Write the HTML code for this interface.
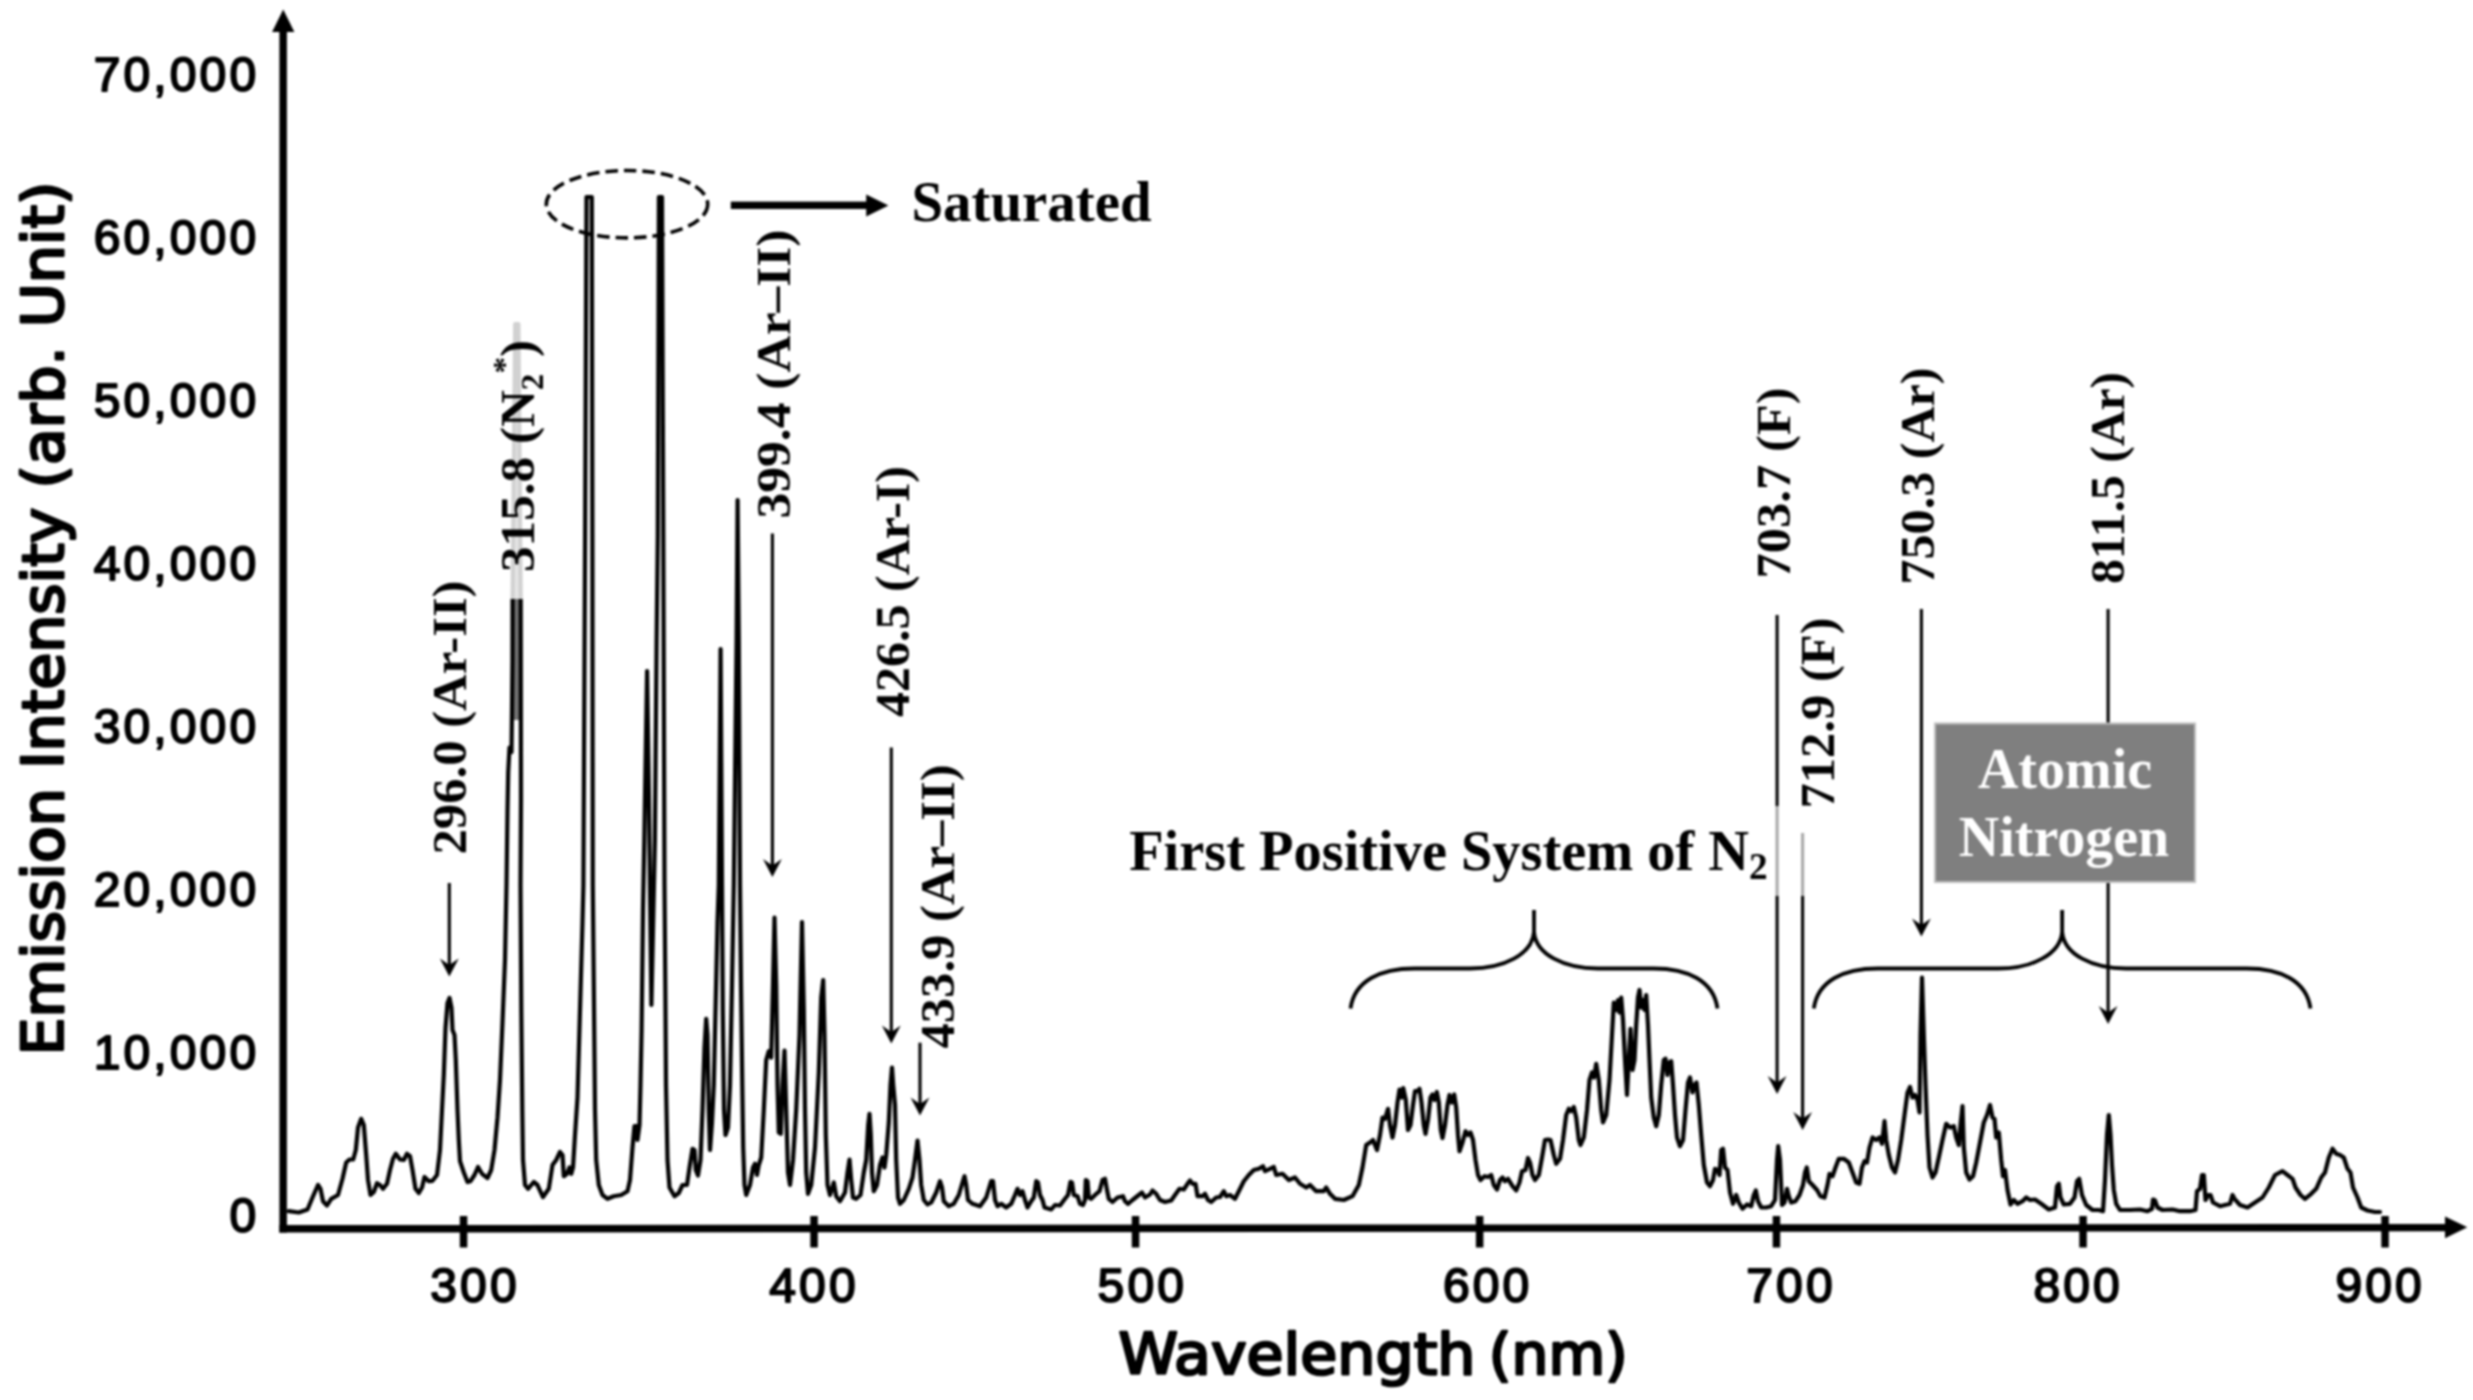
<!DOCTYPE html>
<html lang="en"><head><meta charset="utf-8"><title>Emission spectrum</title>
<style>
html,body{margin:0;padding:0;background:#fff;}
body{width:2473px;height:1400px;overflow:hidden;}
svg{display:block;filter:blur(0.8px);}
.num{font-family:"Liberation Sans",sans-serif;font-size:48px;letter-spacing:3.1px;fill:#000;stroke:#000;stroke-width:1.9px;stroke-linejoin:round;}
.ttl{font-family:"DejaVu Sans","Liberation Sans",sans-serif;font-size:57px;fill:#000;stroke:#000;stroke-width:2.7px;stroke-linejoin:round;}
.lab{font-family:"Liberation Serif",serif;font-weight:bold;font-size:49.5px;fill:#000;}
.big{font-family:"Liberation Serif",serif;font-weight:bold;font-size:56px;fill:#000;}
.arr{stroke:#000;stroke-width:3.1px;fill:none;}
.brace{stroke:#000;stroke-width:3.8px;fill:none;stroke-linecap:butt;}
</style></head><body>
<svg width="2473" height="1400" viewBox="0 0 2473 1400">
<rect width="2473" height="1400" fill="#fff"/>
<polyline points="288.8,1211.2 298.8,1212.5 307.5,1209.5 312.5,1197.5 318.0,1185.0 320.5,1188.8 323.0,1201.2 327.0,1205.5 331.2,1198.8 338.0,1195.0 342.5,1178.8 346.2,1162.5 349.5,1159.5 353.2,1159.5 355.8,1150.0 358.0,1127.5 361.2,1118.8 363.8,1125.0 366.2,1155.0 368.0,1180.0 370.5,1195.0 373.8,1192.0 377.0,1183.2 380.0,1185.0 383.0,1188.8 387.0,1183.8 390.0,1170.0 393.0,1158.8 395.8,1153.8 400.0,1159.5 403.8,1160.0 407.0,1153.8 410.0,1156.2 412.5,1170.0 415.5,1188.8 418.8,1193.0 422.0,1187.5 424.5,1177.0 428.8,1181.2 432.5,1180.8 437.0,1175.0 440.0,1150.0 442.0,1110.0 443.8,1075.0 445.5,1028.0 447.5,1003.0 449.5,998.0 451.5,1008.0 452.5,1030.0 454.5,1035.0 455.8,1060.0 457.5,1110.0 458.8,1140.0 460.0,1161.2 463.8,1172.5 467.5,1182.0 470.5,1181.2 474.5,1175.0 478.0,1167.0 482.0,1173.8 487.5,1178.0 491.2,1170.0 494.5,1150.0 497.5,1117.5 500.0,1080.0 502.5,1022.5 505.0,960.0 506.5,885.0 507.5,810.0 508.2,772.5 509.5,747.5 511.5,752.0 512.0,710.0 512.5,660.0 512.6,600.0 515.2,324.0 518.4,324.0 520.7,600.0 521.0,800.0 520.5,885.0 521.3,1010.0 522.3,1110.0 523.0,1160.0 525.0,1185.0 528.0,1188.8 533.8,1182.0 537.5,1185.0 543.0,1197.0 548.8,1188.8 552.5,1165.0 556.2,1160.0 560.0,1152.0 562.5,1155.0 563.8,1176.2 567.0,1173.8 569.5,1167.5 571.2,1173.8 573.0,1167.5 575.0,1135.0 577.5,1097.5 580.0,1010.0 582.5,922.5 583.4,885.0 585.1,535.0 586.5,197.0 591.8,197.0 592.4,535.0 592.8,885.0 593.8,985.0 595.0,1110.0 596.2,1160.0 598.8,1185.0 602.5,1195.0 607.5,1198.8 613.8,1196.2 621.2,1195.0 627.5,1191.2 630.0,1180.0 632.5,1147.5 634.5,1126.0 637.0,1126.0 637.5,1140.0 639.5,1125.0 640.5,1085.0 641.6,1030.0 643.0,910.0 644.3,840.0 647.1,671.0 649.0,800.0 650.5,930.0 651.4,1005.0 653.0,930.0 654.9,840.0 656.6,640.0 657.8,535.0 658.9,197.0 662.0,197.0 663.3,535.0 664.5,885.0 665.3,985.0 666.0,1085.0 667.5,1160.0 669.5,1187.5 674.5,1196.2 678.8,1193.0 682.5,1185.0 687.0,1185.0 689.5,1167.5 692.5,1148.8 694.5,1150.0 695.8,1170.0 698.0,1175.5 700.5,1160.0 702.5,1110.0 704.5,1047.5 706.2,1018.8 707.5,1035.0 708.8,1110.0 710.0,1150.0 712.0,1122.5 713.8,1085.0 715.5,1010.0 717.5,922.5 718.8,885.0 720.6,649.0 722.0,885.0 722.8,1010.0 724.0,1110.0 725.5,1135.0 728.0,1127.5 730.0,1085.0 732.0,985.0 733.8,885.0 736.6,640.0 737.6,500.0 738.8,640.0 740.0,885.0 741.0,985.0 742.3,1085.0 743.2,1147.5 744.5,1185.0 746.2,1195.0 750.0,1185.0 753.0,1167.5 755.0,1163.8 757.0,1175.0 758.8,1165.0 761.2,1157.5 763.8,1110.0 766.2,1060.0 768.8,1051.2 771.2,1057.5 773.0,985.0 774.5,917.5 776.2,985.0 777.5,1085.0 778.8,1132.5 780.8,1133.8 782.5,1085.0 784.5,1050.5 786.2,1110.0 788.0,1172.5 790.0,1185.0 793.0,1160.0 796.2,1110.0 799.5,1035.0 802.0,922.0 803.8,1010.0 805.0,1110.0 806.2,1172.5 808.0,1193.8 811.2,1185.0 815.0,1147.5 818.8,1072.5 821.2,997.5 823.2,980.0 824.5,1035.0 825.8,1135.0 827.5,1185.0 830.0,1195.0 833.8,1182.5 836.2,1196.2 840.0,1201.2 845.0,1192.5 847.5,1172.5 849.5,1159.5 851.2,1180.0 853.0,1197.5 856.2,1198.8 860.5,1195.0 863.8,1172.5 866.2,1160.0 868.2,1125.0 869.5,1113.8 870.8,1135.0 872.0,1172.5 873.8,1191.2 877.0,1185.0 880.0,1165.0 882.5,1157.5 884.5,1167.5 886.2,1155.0 888.8,1122.5 890.5,1085.0 892.0,1067.5 893.2,1085.0 895.0,1105.0 896.2,1160.0 898.0,1197.5 900.0,1203.8 903.8,1200.0 908.8,1188.8 912.5,1177.5 915.0,1160.0 917.5,1140.5 919.5,1160.0 921.2,1185.0 923.8,1200.0 927.5,1204.5 931.2,1202.5 936.2,1192.5 940.0,1181.2 942.0,1187.5 943.8,1201.2 948.8,1206.2 953.8,1203.8 958.8,1195.0 962.5,1182.5 964.5,1176.2 966.2,1185.0 968.0,1200.0 972.5,1203.8 980.0,1206.2 986.2,1197.5 991.2,1181.2 993.0,1181.2 995.0,1200.0 997.5,1206.2 1001.2,1203.8 1006.2,1207.5 1011.2,1203.8 1015.0,1195.0 1017.5,1188.8 1020.0,1195.0 1022.5,1191.2 1025.0,1200.0 1027.5,1207.5 1031.2,1201.2 1033.8,1197.5 1036.2,1181.2 1038.0,1182.5 1040.0,1195.0 1042.5,1200.0 1044.5,1207.5 1051.2,1209.5 1055.0,1205.0 1060.0,1205.5 1065.0,1198.8 1068.0,1195.0 1070.5,1182.0 1072.0,1182.5 1073.8,1195.0 1077.5,1196.2 1080.0,1203.8 1083.0,1205.0 1085.0,1200.0 1085.8,1180.0 1087.5,1181.2 1088.8,1197.5 1091.2,1198.8 1095.0,1195.0 1099.5,1191.2 1102.5,1180.0 1105.0,1178.8 1107.0,1190.0 1108.8,1198.8 1112.5,1202.0 1117.5,1197.5 1123.0,1196.2 1125.0,1201.2 1128.0,1203.8 1132.5,1200.0 1138.8,1195.0 1142.0,1192.5 1145.0,1197.5 1150.0,1194.5 1152.5,1190.5 1156.2,1193.8 1160.0,1200.0 1165.0,1202.0 1171.2,1200.5 1175.0,1195.0 1179.5,1188.8 1183.8,1189.5 1187.5,1183.8 1190.0,1180.5 1192.5,1183.8 1195.5,1183.8 1197.5,1196.2 1202.5,1196.2 1205.0,1193.8 1208.0,1200.0 1211.2,1202.0 1216.2,1197.5 1220.0,1197.0 1223.8,1191.2 1226.2,1196.2 1230.0,1195.0 1235.0,1198.8 1238.8,1191.2 1243.8,1181.2 1248.8,1175.0 1253.8,1170.0 1258.8,1168.8 1263.0,1166.2 1265.0,1171.2 1270.0,1168.8 1273.8,1167.0 1276.2,1175.0 1282.5,1173.8 1288.8,1180.0 1295.0,1177.5 1300.0,1183.8 1306.2,1187.5 1310.0,1185.0 1316.2,1191.2 1323.8,1191.2 1326.2,1187.5 1330.0,1193.8 1335.0,1198.8 1343.8,1200.0 1352.5,1196.2 1358.8,1185.0 1362.5,1167.5 1366.2,1145.0 1370.0,1142.5 1373.0,1140.0 1377.0,1150.0 1380.0,1135.0 1382.5,1117.5 1385.0,1118.8 1388.0,1108.8 1390.0,1125.0 1392.5,1137.5 1395.0,1125.0 1397.5,1102.5 1399.5,1089.5 1401.8,1097.5 1403.2,1088.0 1405.8,1100.0 1408.0,1130.0 1410.5,1125.0 1413.0,1105.0 1415.0,1091.2 1417.5,1091.2 1419.5,1088.8 1421.5,1102.5 1423.8,1125.0 1425.5,1133.8 1428.0,1120.0 1430.5,1097.5 1432.5,1094.5 1434.5,1100.0 1436.8,1092.0 1438.8,1102.5 1440.8,1130.0 1442.5,1138.0 1445.0,1125.0 1447.5,1105.0 1449.5,1095.0 1451.8,1102.5 1454.2,1094.5 1456.2,1107.5 1458.0,1135.0 1459.5,1151.2 1462.5,1142.5 1465.5,1131.2 1468.0,1135.0 1470.5,1132.5 1473.0,1140.0 1475.5,1160.0 1478.0,1175.0 1480.5,1180.0 1484.5,1176.2 1488.0,1177.0 1491.2,1175.0 1493.8,1185.0 1497.0,1189.5 1500.0,1180.0 1502.5,1177.5 1505.0,1181.2 1508.0,1178.8 1512.5,1186.2 1516.2,1190.5 1519.5,1182.5 1522.0,1171.2 1525.5,1170.0 1528.0,1158.0 1530.0,1162.5 1532.5,1175.0 1535.0,1180.0 1538.8,1175.0 1542.0,1157.5 1545.0,1140.0 1548.0,1139.5 1550.5,1140.0 1553.8,1155.0 1556.2,1163.8 1560.0,1158.8 1563.0,1140.0 1566.2,1115.0 1568.8,1108.8 1571.2,1111.2 1573.8,1107.0 1576.2,1117.5 1578.8,1140.0 1580.5,1145.0 1583.8,1137.5 1587.0,1110.0 1589.5,1080.0 1592.0,1072.5 1594.0,1077.5 1596.2,1063.8 1598.8,1080.0 1601.2,1110.0 1603.0,1122.5 1606.2,1115.0 1609.5,1080.0 1612.0,1035.0 1613.8,1002.5 1616.2,1010.0 1618.0,1000.0 1619.5,1012.5 1621.2,997.5 1623.0,1020.0 1625.0,1060.0 1627.0,1095.0 1628.8,1060.0 1630.5,1028.8 1632.5,1070.0 1634.5,1060.0 1636.2,1025.0 1638.0,997.5 1639.5,990.0 1641.2,1007.5 1643.0,1000.0 1644.5,1010.0 1646.2,995.0 1648.0,1025.0 1649.5,1060.0 1651.2,1097.5 1653.8,1117.5 1656.2,1126.2 1658.8,1115.0 1661.2,1085.0 1663.8,1060.0 1665.5,1058.8 1667.5,1075.0 1669.5,1062.5 1671.2,1061.2 1673.0,1085.0 1675.0,1115.0 1677.0,1137.5 1680.0,1146.2 1683.0,1140.0 1685.5,1110.0 1688.0,1082.5 1690.0,1077.5 1692.5,1092.5 1694.5,1085.0 1696.5,1082.5 1698.8,1105.0 1701.2,1135.0 1703.8,1165.0 1707.0,1182.5 1710.0,1186.2 1713.0,1180.0 1715.0,1168.8 1717.5,1170.0 1719.5,1175.0 1721.2,1150.0 1723.0,1148.8 1725.0,1167.5 1727.5,1170.0 1730.0,1192.5 1733.0,1203.8 1736.2,1195.0 1738.8,1202.5 1742.5,1208.8 1747.0,1204.5 1751.2,1206.2 1753.8,1195.0 1755.8,1190.5 1758.0,1201.2 1761.2,1207.5 1766.2,1207.5 1771.2,1206.2 1775.0,1200.0 1777.0,1160.0 1778.2,1146.2 1780.0,1160.0 1782.0,1205.0 1784.5,1202.5 1787.0,1188.8 1788.8,1196.2 1791.2,1202.5 1795.5,1201.2 1799.5,1195.0 1803.0,1185.0 1805.0,1172.5 1806.8,1167.5 1808.8,1181.2 1812.5,1185.0 1817.0,1190.0 1820.5,1196.2 1824.5,1197.5 1827.5,1185.0 1829.5,1173.8 1832.5,1176.2 1835.5,1167.5 1838.8,1158.8 1843.8,1158.8 1848.8,1162.5 1852.5,1172.5 1856.2,1182.5 1859.5,1183.8 1862.0,1167.5 1864.5,1161.2 1867.0,1162.5 1869.5,1147.5 1872.5,1137.5 1876.2,1140.0 1879.5,1137.5 1882.0,1143.8 1884.5,1121.2 1886.2,1140.0 1888.8,1155.0 1892.0,1167.5 1895.0,1172.5 1898.0,1160.0 1901.2,1140.0 1904.5,1115.0 1907.5,1092.5 1910.0,1087.0 1912.5,1097.5 1915.0,1095.0 1917.5,1100.0 1919.5,1112.5 1920.5,1035.0 1922.0,977.5 1923.8,1035.0 1925.5,1085.0 1927.5,1135.0 1929.5,1167.5 1932.5,1177.5 1935.5,1172.5 1938.8,1157.5 1942.5,1140.0 1946.2,1123.8 1950.0,1127.5 1953.8,1126.2 1956.2,1137.5 1958.8,1145.0 1960.5,1125.0 1962.5,1106.2 1963.8,1147.5 1966.2,1172.5 1969.5,1179.5 1973.0,1176.2 1976.2,1162.5 1980.0,1142.5 1983.8,1122.5 1987.0,1115.0 1990.0,1105.0 1992.5,1117.5 1994.5,1118.8 1996.2,1137.5 1998.8,1132.5 2001.2,1160.0 2003.0,1176.2 2005.0,1170.0 2007.5,1190.0 2010.5,1204.5 2013.8,1200.0 2017.5,1203.8 2022.5,1201.2 2026.2,1197.5 2030.0,1200.0 2035.0,1199.5 2041.2,1203.8 2048.8,1209.5 2055.0,1207.5 2057.0,1186.2 2058.8,1183.8 2060.5,1197.5 2063.8,1204.5 2070.0,1203.8 2074.5,1197.5 2077.0,1181.2 2079.2,1178.8 2082.0,1195.0 2086.2,1205.0 2092.5,1210.0 2098.8,1210.0 2103.0,1211.2 2105.0,1180.0 2107.0,1135.0 2108.8,1115.0 2110.5,1135.0 2112.0,1165.0 2113.8,1190.0 2116.2,1203.8 2120.0,1210.0 2130.0,1210.0 2140.0,1209.5 2147.5,1211.2 2152.0,1208.8 2153.0,1199.5 2155.0,1200.5 2157.5,1207.5 2162.5,1210.0 2172.5,1209.5 2180.0,1211.2 2190.0,1211.2 2195.5,1210.0 2197.0,1191.2 2200.0,1188.8 2202.0,1175.0 2203.8,1175.0 2205.5,1200.0 2208.0,1195.0 2210.5,1195.0 2213.0,1202.5 2220.0,1206.2 2230.0,1203.8 2232.5,1195.0 2234.5,1198.8 2240.0,1205.0 2247.5,1207.5 2255.0,1202.5 2262.5,1197.5 2268.8,1187.5 2275.0,1175.0 2282.5,1171.2 2287.5,1175.0 2292.5,1178.8 2295.5,1187.5 2300.5,1195.0 2305.0,1198.8 2311.2,1193.8 2316.2,1188.8 2321.2,1177.5 2325.0,1172.5 2328.8,1157.5 2332.5,1148.8 2336.2,1153.8 2340.0,1155.0 2343.8,1157.5 2347.5,1168.8 2350.5,1172.5 2353.0,1187.5 2357.5,1197.5 2361.2,1207.5 2367.5,1210.5 2375.0,1212.0 2380.0,1212.0" fill="none" stroke="#000" stroke-width="4.2" stroke-linejoin="round" stroke-linecap="round"/>
<polygon points="512.6,720 512.6,600 515.2,324 518.4,324 520.5,600 520.5,720" fill="#000" fill-opacity="0.55"/>
<g id="axes" fill="#000" stroke="none">
<rect x="279.4" y="30" width="7.5" height="1202.6"/>
<polygon points="283.2,9.6 272.1,31.9 294.4,31.9"/>
<polygon points="279.4,1225.1 2446,1223.9 2446,1231.3 279.4,1232.6"/>
<polygon points="2467.3,1227.3 2445,1216.4 2445,1238.2"/>
<rect x="459.8" y="1216" width="7.5" height="31.5"/>
<rect x="810.3" y="1216" width="7.5" height="31.5"/>
<rect x="1131.8" y="1216" width="7.5" height="31.5"/>
<rect x="1475.9" y="1216" width="7.5" height="31.5"/>
<rect x="1772.7" y="1216" width="7.5" height="31.5"/>
<rect x="2079.3" y="1216" width="7.5" height="31.5"/>
<rect x="2381.3" y="1216" width="7.5" height="31.5"/>
</g>
<line class="arr" x1="1777.1" y1="615" x2="1777.1" y2="1086"/>
<path d="M1777.1,1094 L1767.6999999999998,1076 L1777.1,1082.5 L1786.5,1076 Z" fill="#000" stroke="none"/>
<line class="arr" x1="1802.6" y1="833" x2="1802.6" y2="1122"/>
<path d="M1802.6,1130 L1793.1999999999998,1112 L1802.6,1118.5 L1812.0,1112 Z" fill="#000" stroke="none"/>
<line class="arr" x1="2108.1" y1="609" x2="2108.1" y2="1015.9"/>
<path d="M2108.1,1023.9 L2098.7,1005.9 L2108.1,1012.4 L2117.5,1005.9 Z" fill="#000" stroke="none"/>
<rect x="1106" y="806" width="722" height="90" fill="#fff" fill-opacity="0.66"/>
<rect x="492" y="318" width="56" height="281" fill="#fff" fill-opacity="0.82"/>
<line class="arr" x1="449.3" y1="883" x2="449.3" y2="968.5"/>
<path d="M449.3,976.5 L439.90000000000003,958.5 L449.3,965.0 L458.7,958.5 Z" fill="#000" stroke="none"/>
<line class="arr" x1="772.4" y1="533.5" x2="772.4" y2="869"/>
<path d="M772.4,877 L763.0,859 L772.4,865.5 L781.8,859 Z" fill="#000" stroke="none"/>
<line class="arr" x1="891.3" y1="747.5" x2="891.3" y2="1035.4"/>
<path d="M891.3,1043.4 L881.9,1025.4 L891.3,1031.9 L900.6999999999999,1025.4 Z" fill="#000" stroke="none"/>
<line class="arr" x1="920" y1="1042.7" x2="920" y2="1107.4"/>
<path d="M920,1115.4 L910.6,1097.4 L920,1103.9 L929.4,1097.4 Z" fill="#000" stroke="none"/>
<line class="arr" x1="1921.4" y1="609" x2="1921.4" y2="928.6"/>
<path d="M1921.4,936.6 L1912.0,918.6 L1921.4,925.1 L1930.8000000000002,918.6 Z" fill="#000" stroke="none"/>
<rect x="730.8" y="201.6" width="137" height="7.4" fill="#000"/>
<polygon points="888.4,205.4 866.2,194.4 866.2,216.4" fill="#000"/>
<ellipse cx="627" cy="204.2" rx="80.7" ry="33.7" fill="none" stroke="#000" stroke-width="3.6" stroke-dasharray="12.5 6"/>
<path class="brace" d="M1350.5,1008.5 C1354.5,980.5 1380.5,968.5 1414.5,968.5 L1470.0,968.5 C1504.0,968.5 1532.0,954.5 1534.0,932 L1534.0,910 M1534.0,932 C1536.0,954.5 1564.0,968.5 1598.0,968.5 L1653.5,968.5 C1687.5,968.5 1713.5,980.5 1717.5,1008.5"/>
<path class="brace" d="M1813.8,1008.5 C1817.8,980.5 1843.8,968.5 1877.8,968.5 L1998.15,968.5 C2032.15,968.5 2060.15,954.5 2062.15,932 L2062.15,910 M2062.15,932 C2064.15,954.5 2092.15,968.5 2126.15,968.5 L2246.5,968.5 C2280.5,968.5 2306.5,980.5 2310.5,1008.5"/>
<rect x="1935" y="723.5" width="260" height="158.5" fill="#7f7f7f" stroke="#bdbdbd" stroke-width="2"/>
<text class="big" x="2065" y="788" text-anchor="middle" style="fill:#fff">Atomic</text>
<text class="big" x="2064" y="856" text-anchor="middle" style="fill:#fff">Nitrogen</text>
<text class="num" transform="translate(475.0,1301.5)" text-anchor="middle">300</text>
<text class="num" transform="translate(814.0,1301.5)" text-anchor="middle">400</text>
<text class="num" transform="translate(1142.3,1301.5)" text-anchor="middle">500</text>
<text class="num" transform="translate(1487.6999999999998,1301.5)" text-anchor="middle">600</text>
<text class="num" transform="translate(1791.0,1301.5)" text-anchor="middle">700</text>
<text class="num" transform="translate(2078.2,1301.5)" text-anchor="middle">800</text>
<text class="num" transform="translate(2380.2,1301.5)" text-anchor="middle">900</text>
<text class="num" transform="translate(259.2,1232)" text-anchor="end">0</text>
<text class="num" transform="translate(259.2,1069)" text-anchor="end">10,000</text>
<text class="num" transform="translate(259.2,906)" text-anchor="end">20,000</text>
<text class="num" transform="translate(259.2,743)" text-anchor="end">30,000</text>
<text class="num" transform="translate(259.2,580)" text-anchor="end">40,000</text>
<text class="num" transform="translate(259.2,417)" text-anchor="end">50,000</text>
<text class="num" transform="translate(259.2,254)" text-anchor="end">60,000</text>
<text class="num" transform="translate(259.2,91)" text-anchor="end">70,000</text>
<text class="ttl" y="1374.4"><tspan x="1118.4" textLength="357" lengthAdjust="spacingAndGlyphs">Wavelength</tspan><tspan x="1471"> </tspan><tspan x="1488.8" textLength="139" lengthAdjust="spacingAndGlyphs">(nm)</tspan></text>
<text class="ttl" transform="translate(62.9,618.5) rotate(-90)" text-anchor="middle" textLength="874" lengthAdjust="spacingAndGlyphs">Emission Intensity (arb. Unit)</text>
<text class="lab" transform="translate(466,854.5) rotate(-90)" textLength="274" lengthAdjust="spacingAndGlyphs">296.0 (Ar-II)</text>
<text class="lab" transform="translate(533.5,572) rotate(-90)" textLength="232" lengthAdjust="spacingAndGlyphs">315.8 (N<tspan font-size="32" dy="9">2</tspan><tspan font-size="32" dy="-28">*</tspan><tspan dy="19">)</tspan></text>
<text class="lab" transform="translate(790,518.5) rotate(-90)" textLength="289" lengthAdjust="spacingAndGlyphs">399.4 (Ar–II)</text>
<text class="lab" transform="translate(908.5,717) rotate(-90)" textLength="251" lengthAdjust="spacingAndGlyphs">426.5 (Ar-I)</text>
<text class="lab" transform="translate(954,1048.5) rotate(-90)" textLength="284" lengthAdjust="spacingAndGlyphs">433.9 (Ar–II)</text>
<text class="lab" transform="translate(1790,578.5) rotate(-90)" textLength="191" lengthAdjust="spacingAndGlyphs">703.7 (F)</text>
<text class="lab" transform="translate(1834,808.5) rotate(-90)" textLength="191" lengthAdjust="spacingAndGlyphs">712.9 (F)</text>
<text class="lab" transform="translate(1934,584.5) rotate(-90)" textLength="217" lengthAdjust="spacingAndGlyphs">750.3 (Ar)</text>
<text class="lab" transform="translate(2124,584) rotate(-90)" textLength="212" lengthAdjust="spacingAndGlyphs">811.5 (Ar)</text>
<text class="big" x="911.5" y="220.5" textLength="240" lengthAdjust="spacingAndGlyphs">Saturated</text>
<text class="big" x="1129.2" y="869.5" textLength="638.5" lengthAdjust="spacingAndGlyphs">First Positive System of N<tspan font-size="37" dy="9">2</tspan></text>
</svg>
</body></html>
